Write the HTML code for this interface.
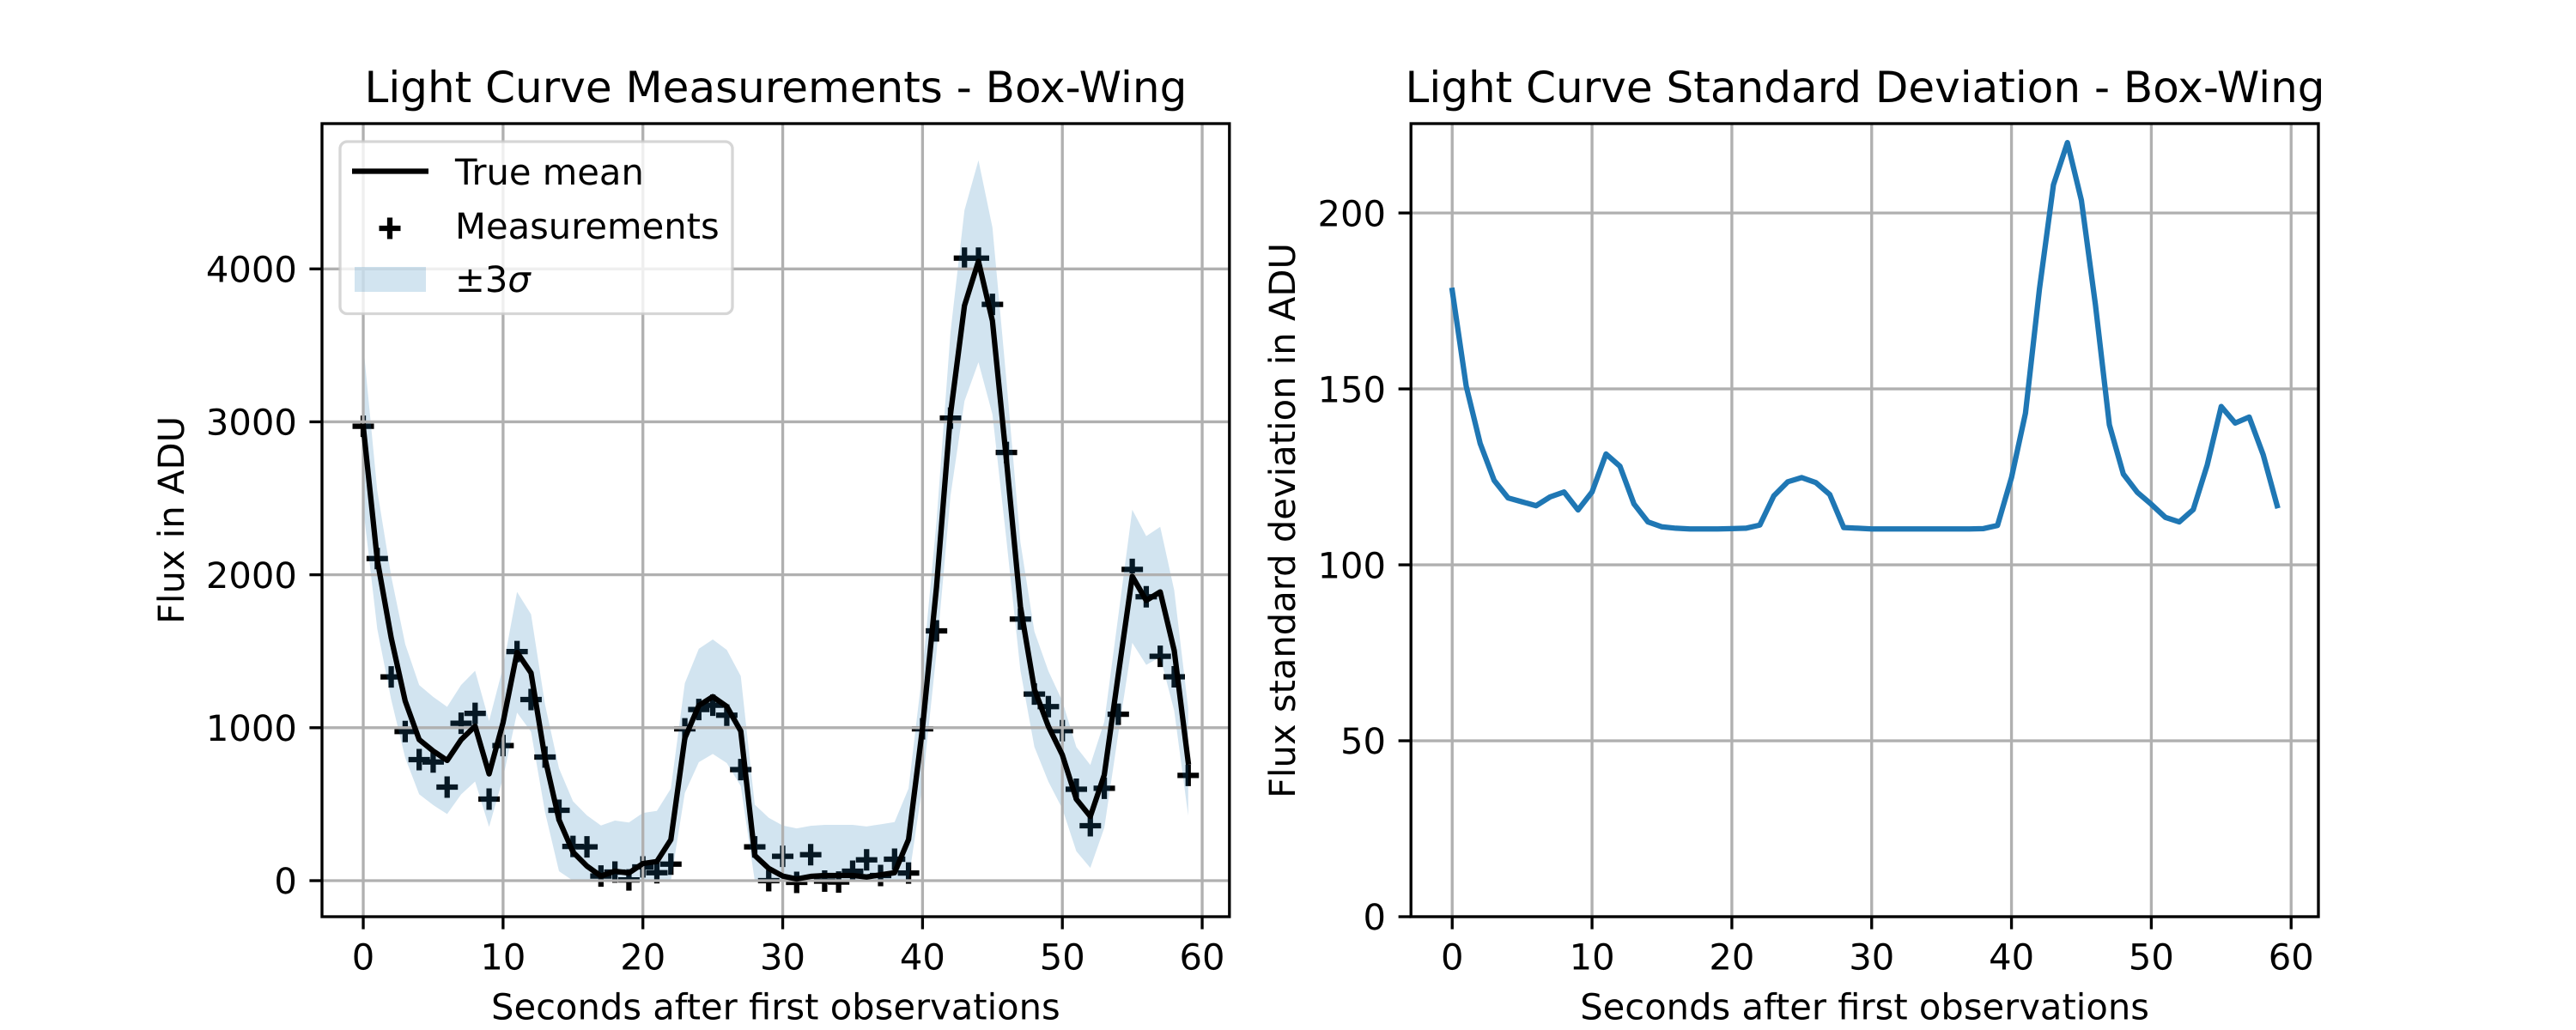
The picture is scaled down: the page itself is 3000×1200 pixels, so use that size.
<!DOCTYPE html>
<html lang="en">
<head>
<meta charset="utf-8">
<title>Light Curve - Box-Wing</title>
<style>
html,body{margin:0;padding:0;background:#fff;width:3000px;height:1200px;overflow:hidden}
svg{display:block}
text{font-family:"DejaVu Sans","Liberation Sans",sans-serif;fill:#000;text-rendering:geometricPrecision}
.t{font-size:50px}
.l{font-size:41.667px}
</style>
</head>
<body>
<svg id="fig" xmlns="http://www.w3.org/2000/svg" width="3000" height="1200" viewBox="0 0 3000 1200">
  <rect x="0" y="0" width="3000" height="1200" fill="#fff"/>
  <g id="left-axes"></g>
  <g id="right-axes"></g>
  <text class="t" x="903.4" y="119" text-anchor="middle">Light Curve Measurements - Box-Wing</text>
  <text class="t" x="2172" y="119" text-anchor="middle">Light Curve Standard Deviation - Box-Wing</text>
  <text class="l" x="903.4" y="1187.5" text-anchor="middle">Seconds after first observations</text>
  <text class="l" x="2171.6" y="1187.5" text-anchor="middle">Seconds after first observations</text>
  <text class="l" text-anchor="middle" transform="translate(214 606) rotate(-90)">Flux in ADU</text>
  <text class="l" text-anchor="middle" transform="translate(1508 606.5) rotate(-90)">Flux standard deviation in ADU</text>
  <g id="legend">
    <rect x="396" y="165" width="457" height="200.5" rx="8.3" ry="8.3" fill="#fff" fill-opacity="0.8" stroke="#ccc" stroke-opacity="0.8" stroke-width="3.33"/>
    <line x1="410" y1="199.5" x2="499" y2="199.5" stroke="#000" stroke-width="6.25"/>
    <text class="l" x="530" y="215">True mean</text>
    <path d="M441.5 266H466.5M454 253.5V278.5" stroke="#000" stroke-width="6.25" fill="none"/>
    <text class="l" x="530" y="278">Measurements</text>
    <rect x="413" y="311" width="83" height="29" fill="#1f77b4" fill-opacity="0.2"/>
    <text class="l" x="530" y="340">±3<tspan font-style="italic">σ</tspan></text>
  </g>
</svg>
<script>
const seconds = [0,1,2,3,4,5,6,7,8,9,10,11,12,13,14,15,16,17,18,19,20,21,22,23,24,25,26,27,28,29,30,31,32,33,34,35,36,37,38,39,40,41,42,43,44,45,46,47,48,49,50,51,52,53,54,55,56,57,58,59];
const trueMean = [2970,2100,1587,1175,922,848,786,922,1010,698,1034,1493,1358,800,398,187,95,30,62,50,112,125,268,932,1145,1203,1139,978,165,80,30,11,28,34,34,34,24,38,52,269,1000,1920,3050,3760,4050,3660,2750,1794,1252,1009,822,533,420,692,1346,1990,1832,1888,1505,776];
const measurements = [2971,2106,1332,975,791,776,612,1029,1094,533,883,1498,1184,808,460,224,221,30,56,5,90,52,108,993,1119,1147,1082,726,221,0,159,-11,170,-3,-9,62,136,34,140,50,993,1633,3024,4070,4070,3768,2800,1710,1220,1138,981,598,359,604,1088,2035,1856,1467,1333,688];
const stdDev = [178,150.8,134.5,124,119,117.9,116.8,119.3,120.7,115.6,120.7,131.5,128,117.3,112.2,110.8,110.4,110.2,110.2,110.2,110.3,110.4,111.3,119.6,123.6,124.8,123.4,120,110.6,110.4,110.2,110.2,110.2,110.2,110.2,110.2,110.2,110.2,110.3,111.2,124.8,143.1,178.4,208,220,203.6,174,139.8,125.8,120.6,117.2,113.5,112.2,115.7,128.4,145,140.3,142,131.3,116.8];
const xTicks = [0,10,20,30,40,50,60];
const leftYTicks = [0,1000,2000,3000,4000];
const rightYTicks = [0,50,100,150,200];
const xDomain = [-2.95,61.95];
const leftYDomain = [-235.7,4950];
const rightYDomain = [0,225.4];
const bandWidth = 3;
const fluxFloor = 0;

const NS = 'http://www.w3.org/2000/svg';
function scale(domain, range) {
  return function (v) {
    return range[0] + (v - domain[0]) * (range[1] - range[0]) / (domain[1] - domain[0]);
  };
}
function make(parent, tag, attrs, text) {
  const node = document.createElementNS(NS, tag);
  for (const key in attrs) node.setAttribute(key, attrs[key]);
  if (text !== undefined) node.textContent = text;
  parent.appendChild(node);
  return node;
}
function polyline(pairs) {
  return pairs.map(function (p) { return p[0].toFixed(2) + ',' + p[1].toFixed(2); }).join(' ');
}
const GRID = '#b0b0b0', AXW = 3.333, TICK = 14.58, PAD = 14.58;

function drawGrid(g, X, Y, yTicks, box) {
  xTicks.forEach(function (t) {
    const el = make(g, 'line', {x1: X(t), x2: X(t), y1: box.top, y2: box.bottom, stroke: GRID, 'stroke-width': AXW});
    
    
  });
  yTicks.forEach(function (t) {
    const el = make(g, 'line', {x1: box.left, x2: box.right, y1: Y(t), y2: Y(t), stroke: GRID, 'stroke-width': AXW});
    
    
  });
}
function drawFrame(g, X, Y, yTicks, box) {
  xTicks.forEach(function (t) {
    const tick = make(g, 'line', {x1: X(t), x2: X(t), y1: box.bottom, y2: box.bottom + TICK, stroke: '#000', 'stroke-width': AXW});
    
    
    const label = make(g, 'text', {x: X(t), y: box.bottom + 61.5, 'text-anchor': 'middle', class: 'l'}, String(t));
    
    
  });
  yTicks.forEach(function (t) {
    const tick = make(g, 'line', {x1: box.left - TICK, x2: box.left, y1: Y(t), y2: Y(t), stroke: '#000', 'stroke-width': AXW});
    
    
    const label = make(g, 'text', {x: box.left - TICK - PAD, y: Y(t) + 15.2, 'text-anchor': 'end', class: 'l'}, String(t));
    
    
  });
  const frame = make(g, 'rect', {x: box.left, y: box.top, width: box.right - box.left, height: box.bottom - box.top, fill: 'none', stroke: '#000', 'stroke-width': AXW});
  
  
}

/* left panel */
const leftBox = {left: 375, right: 1431.8, top: 144, bottom: 1068};
const leftG = document.getElementById('left-axes');
const xL = scale(xDomain, [leftBox.left, leftBox.right]);
const yL = scale(leftYDomain, [leftBox.bottom, leftBox.top]);
const M = 12.5;
seconds.forEach(function (s, i) {
  const cx = xL(s), cy = yL(measurements[i]);
  const mark = make(leftG, 'path', {d: 'M' + (cx - M) + ' ' + cy + 'H' + (cx + M) + 'M' + cx + ' ' + (cy - M) + 'V' + (cy + M), stroke: '#000', 'stroke-width': 6.25, fill: 'none'});
  
  
});
const upperEdge = seconds.map(function (s, i) { return [xL(s), yL(trueMean[i] + bandWidth * stdDev[i])]; });
const lowerEdge = seconds.map(function (s, i) { return [xL(s), yL(Math.max(fluxFloor, trueMean[i] - bandWidth * stdDev[i]))]; }).reverse();
const band = make(leftG, 'polygon', {points: polyline(upperEdge.concat(lowerEdge)), fill: '#1f77b4', 'fill-opacity': 0.2});


drawGrid(leftG, xL, yL, leftYTicks, leftBox);
const meanLine = make(leftG, 'polyline', {points: polyline(seconds.map(function (s, i) { return [xL(s), yL(trueMean[i])]; })), fill: 'none', stroke: '#000', 'stroke-width': 6.25, 'stroke-linejoin': 'round', 'stroke-linecap': 'square'});


drawFrame(leftG, xL, yL, leftYTicks, leftBox);

/* right panel */
const rightBox = {left: 1643.2, right: 2700, top: 144, bottom: 1068};
const rightG = document.getElementById('right-axes');
const xR = scale(xDomain, [rightBox.left, rightBox.right]);
const yR = scale(rightYDomain, [rightBox.bottom, rightBox.top]);
drawGrid(rightG, xR, yR, rightYTicks, rightBox);
const stdLine = make(rightG, 'polyline', {points: polyline(seconds.map(function (s, i) { return [xR(s), yR(stdDev[i])]; })), fill: 'none', stroke: '#1f77b4', 'stroke-width': 6.25, 'stroke-linejoin': 'round', 'stroke-linecap': 'square'});


drawFrame(rightG, xR, yR, rightYTicks, rightBox);
</script>
</body>
</html>
